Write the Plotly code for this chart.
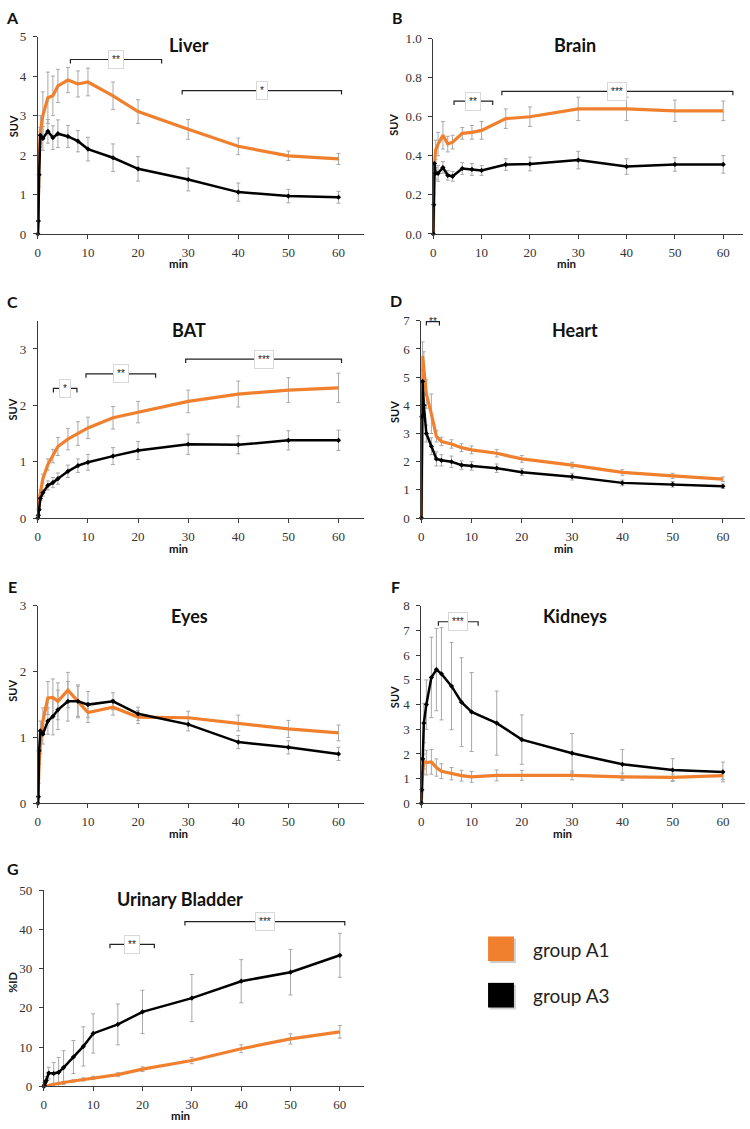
import plotly.graph_objects as go

# ---------------- data ----------------
T = [0, 0.1, 0.25, 0.5, 1, 2, 3, 4, 6, 8, 10, 15, 20, 30, 40, 50, 60]

LIVER_A1 = [0, 1.2, 2.0, 2.6, 3.0, 3.45, 3.5, 3.75, 3.9, 3.8, 3.85, 3.5, 3.1, 2.65, 2.22, 1.98, 1.9]
LIVER_A1_SD = [0, 0, 0, 0.4, 0.6, 0.65, 0.5, 0.42, 0.32, 0.33, 0.35, 0.35, 0.3, 0.25, 0.21, 0.12, 0.14]
LIVER_A3 = [0, 0.33, 1.5, 2.5, 2.42, 2.6, 2.44, 2.54, 2.47, 2.35, 2.15, 1.93, 1.65, 1.38, 1.06, 0.96, 0.93]
LIVER_A3_SD = [0, 0, 0, 0.2, 0.3, 0.3, 0.3, 0.35, 0.28, 0.27, 0.3, 0.35, 0.31, 0.29, 0.23, 0.17, 0.15]

BRAIN_A1 = [0, 0.2, 0.37, 0.43, 0.46, 0.505, 0.46, 0.47, 0.515, 0.52, 0.53, 0.59, 0.60, 0.64, 0.64, 0.63, 0.63]
BRAIN_A1_SD = [0, 0, 0, 0.05, 0.06, 0.07, 0.04, 0.035, 0.03, 0.035, 0.045, 0.05, 0.05, 0.06, 0.06, 0.055, 0.05]
BRAIN_A3 = [0, 0.15, 0.36, 0.31, 0.31, 0.34, 0.30, 0.295, 0.335, 0.33, 0.325, 0.355, 0.358, 0.378, 0.345, 0.356, 0.356]
BRAIN_A3_SD = [0, 0, 0, 0.03, 0.04, 0.03, 0.025, 0.025, 0.03, 0.03, 0.025, 0.03, 0.035, 0.045, 0.04, 0.035, 0.045]

BAT_A1 = [0, 0.2, 0.3, 0.45, 0.7, 0.95, 1.1, 1.27, 1.4, 1.5, 1.6, 1.78, 1.88, 2.07, 2.2, 2.27, 2.31]
BAT_A1_SD = [0, 0, 0, 0.05, 0.08, 0.1, 0.12, 0.16, 0.19, 0.21, 0.19, 0.2, 0.19, 0.2, 0.23, 0.22, 0.26]
BAT_A3 = [0, 0.05, 0.15, 0.35, 0.45, 0.58, 0.63, 0.7, 0.83, 0.93, 0.99, 1.1, 1.2, 1.31, 1.3, 1.38, 1.38]
BAT_A3_SD = [0, 0, 0, 0.04, 0.06, 0.08, 0.09, 0.1, 0.11, 0.12, 0.14, 0.15, 0.16, 0.18, 0.16, 0.17, 0.18]

HEART_A1 = [0, 3.0, 5.75, 5.3, 4.4, 3.7, 2.9, 2.72, 2.63, 2.5, 2.42, 2.3, 2.1, 1.88, 1.62, 1.5, 1.38]
HEART_A1_SD = [0, 0, 0.5, 0.6, 0.5, 0.7, 0.2, 0.15, 0.15, 0.14, 0.14, 0.13, 0.12, 0.1, 0.1, 0.09, 0.08]
HEART_A3 = [0, 3.6, 4.85, 4.0, 3.0, 2.55, 2.1, 2.05, 2.0, 1.88, 1.85, 1.77, 1.63, 1.47, 1.25, 1.2, 1.13]
HEART_A3_SD = [0, 0, 0.4, 0.4, 0.3, 0.3, 0.25, 0.2, 0.2, 0.15, 0.15, 0.15, 0.12, 0.12, 0.1, 0.1, 0.08]

EYES_A1 = [0, 0.3, 0.6, 0.9, 1.25, 1.6, 1.61, 1.55, 1.72, 1.55, 1.38, 1.46, 1.31, 1.3, 1.22, 1.13, 1.07]
EYES_A1_SD = [0, 0, 0, 0.15, 0.2, 0.25, 0.28, 0.28, 0.27, 0.23, 0.15, 0.12, 0.1, 0.1, 0.12, 0.13, 0.12]
EYES_A3 = [0, 0.1, 0.8, 1.1, 1.05, 1.25, 1.32, 1.42, 1.55, 1.55, 1.5, 1.55, 1.36, 1.2, 0.93, 0.85, 0.75]
EYES_A3_SD = [0, 0, 0, 0.15, 0.15, 0.2, 0.28, 0.3, 0.3, 0.25, 0.2, 0.13, 0.1, 0.1, 0.1, 0.1, 0.1]

KIDNEYS_A1 = [0, 0.5, 1.2, 1.7, 1.65, 1.68, 1.45, 1.3, 1.2, 1.12, 1.07, 1.13, 1.13, 1.13, 1.07, 1.05, 1.12]
KIDNEYS_A1_SD = [0, 0, 0, 0.3, 0.5, 0.5, 0.35, 0.3, 0.25, 0.22, 0.22, 0.22, 0.2, 0.18, 0.15, 0.13, 0.15]
KIDNEYS_A3 = [0, 0.55, 1.8, 3.25, 4.0, 5.1, 5.42, 5.25, 4.75, 4.1, 3.7, 3.25, 2.58, 2.03, 1.58, 1.35, 1.27]
KIDNEYS_A3_SD = [0, 0, 0, 0.8, 1.0, 1.63, 1.67, 1.87, 1.77, 1.8, 1.6, 1.3, 1.0, 0.8, 0.6, 0.46, 0.4]

BLADDER_A1 = [0, 0, 0.1, 0.2, 0.3, 0.6, 0.8, 1.0, 1.4, 1.8, 2.2, 3.0, 4.4, 6.6, 9.6, 12.1, 13.9]
BLADDER_A1_SD = [0, 0, 0, 0.1, 0.1, 0.2, 0.2, 0.3, 0.3, 0.4, 0.4, 0.5, 0.6, 0.8, 1.0, 1.3, 1.6]
BLADDER_A3 = [0, 0.3, 1.0, 1.5, 3.4, 3.3, 3.6, 4.8, 7.5, 10.2, 13.5, 15.8, 19.0, 22.5, 26.8, 29.1, 33.4]
BLADDER_A3_SD = [0, 0, 0, 1.0, 1.5, 2.8, 3.8, 4.3, 4.2, 5.0, 5.0, 5.2, 5.5, 6.0, 5.5, 5.8, 5.6]

X_TICKS = [0, 10, 20, 30, 40, 50, 60]
SERIES_NAMES = ["group A1", "group A3"]

# ---------------- styling / layout ----------------
W, H = 750, 1129
ORANGE = "#F0802E"
BLACK = "#000000"
ERR = "#a8a8a8"
AXC = "#3a3a3a"


def fx(p):
    return min(max(p / W, 0), 1)


def fy(p):
    return min(max(1 - p / H, 0), 1)


panels = [
    dict(letter="A", title="Liver", ytitle="SUV", a1=LIVER_A1, a1sd=LIVER_A1_SD, a3=LIVER_A3, a3sd=LIVER_A3_SD,
         xpx=(35, 362), xmax=65, ypx=(30, 230), ymax=5, yticks=[0, 1, 2, 3, 4, 5], yfmt="d",
         letpos=(10, 11), titpos=(187, 39), ytpos=(10, 121), minpos=(176, 260),
         brackets=[(6.5, 24.7, 4.42, "**"), (28.8, 60.6, 3.63, "*")]),
    dict(letter="B", title="Brain", ytitle="SUV", a1=BRAIN_A1, a1sd=BRAIN_A1_SD, a3=BRAIN_A3, a3sd=BRAIN_A3_SD,
         xpx=(432, 743), xmax=64.1, ypx=(32, 230), ymax=1.0, yticks=[0, 0.2, 0.4, 0.6, 0.8, 1.0], yfmt=".1f",
         letpos=(396, 11), titpos=(574, 39), ytpos=(392, 119), minpos=(566, 260),
         brackets=[(4.3, 12.3, 0.68, "**"), (14.2, 62, 0.73, "***")]),
    dict(letter="C", title="BAT", ytitle="SUV", a1=BAT_A1, a1sd=BAT_A1_SD, a3=BAT_A3, a3sd=BAT_A3_SD,
         xpx=(35, 362), xmax=65, ypx=(318, 518), ymax=3.5, yticks=[0, 1, 2, 3], yfmt="d",
         letpos=(10, 298), titpos=(187, 327), ytpos=(10, 408), minpos=(176, 549),
         brackets=[(3.1, 7.8, 2.3, "*"), (9.6, 23.5, 2.56, "**"), (29.5, 60.6, 2.82, "***")]),
    dict(letter="D", title="Heart", ytitle="SUV", a1=HEART_A1, a1sd=HEART_A1_SD, a3=HEART_A3, a3sd=HEART_A3_SD,
         xpx=(420, 745), xmax=64.4, ypx=(318, 518), ymax=7, yticks=[0, 1, 2, 3, 4, 5, 6, 7], yfmt="d",
         letpos=(395, 297), titpos=(574, 327), ytpos=(393, 410), minpos=(563, 549),
         brackets=[(1.0, 3.6, 6.97, "**")]),
    dict(letter="E", title="Eyes", ytitle="SUV", a1=EYES_A1, a1sd=EYES_A1_SD, a3=EYES_A3, a3sd=EYES_A3_SD,
         xpx=(35, 362), xmax=65, ypx=(607, 807), ymax=3, yticks=[0, 1, 2, 3], yfmt="d",
         letpos=(10, 587), titpos=(187, 617), ytpos=(10, 693), minpos=(176, 838),
         brackets=[]),
    dict(letter="F", title="Kidneys", ytitle="SUV", a1=KIDNEYS_A1, a1sd=KIDNEYS_A1_SD, a3=KIDNEYS_A3, a3sd=KIDNEYS_A3_SD,
         xpx=(420, 745), xmax=64.4, ypx=(607, 807), ymax=8, yticks=[0, 1, 2, 3, 4, 5, 6, 7, 8], yfmt="d",
         letpos=(394, 587), titpos=(574, 617), ytpos=(393, 699), minpos=(562, 838),
         brackets=[(3.4, 11.3, 7.36, "***")]),
    dict(letter="G", title="Urinary Bladder", ytitle="%ID", a1=BLADDER_A1, a1sd=BLADDER_A1_SD, a3=BLADDER_A3, a3sd=BLADDER_A3_SD,
         xpx=(41, 362), xmax=64.8, ypx=(895, 1094), ymax=50, yticks=[0, 10, 20, 30, 40, 50], yfmt="d",
         letpos=(10, 873), titpos=(178, 904), ytpos=(10, 988), minpos=(178, 1123),
         brackets=[(13.4, 22.4, 36.2, "**"), (28.6, 61, 42, "***")]),
]

fig = go.Figure()
layout = dict(width=W, height=H, margin=dict(l=0, r=0, t=0, b=0), paper_bgcolor="white",
              plot_bgcolor="rgba(0,0,0,0)", showlegend=False)
annotations = []
shapes = []

tickfont = dict(family="Liberation Serif, Times New Roman, serif", size=13, color="#333333")
boldfont = "Lato, Open Sans, sans-serif"


def clean_sd(sd):
    return [s if s > 0 else None for s in sd]


for i, p in enumerate(panels, start=1):
    xs = "" if i == 1 else str(i)
    xa, ya = "x" + xs, "y" + xs
    # error bars (behind lines)
    for vals, sd in ((p["a1"], p["a1sd"]), (p["a3"], p["a3sd"])):
        fig.add_trace(go.Scatter(x=T, y=vals, mode="markers", xaxis=xa, yaxis=ya,
                                 marker=dict(size=1, color="rgba(0,0,0,0)"),
                                 error_y=dict(type="data", array=clean_sd(sd), color=ERR, thickness=1, width=2),
                                 hoverinfo="skip", cliponaxis=False))
    fig.add_trace(go.Scatter(x=T, y=p["a1"], mode="lines", name=SERIES_NAMES[0], xaxis=xa, yaxis=ya,
                             line=dict(color=ORANGE, width=3.2), cliponaxis=False))
    fig.add_trace(go.Scatter(x=T, y=p["a3"], mode="lines+markers", name=SERIES_NAMES[1], xaxis=xa, yaxis=ya,
                             line=dict(color=BLACK, width=2.5), marker=dict(color=BLACK, size=4, symbol="diamond"),
                             cliponaxis=False))

    layout["xaxis" + xs] = dict(domain=[fx(p["xpx"][0]), fx(p["xpx"][1])], range=[0, p["xmax"]], anchor=ya,
                                tickvals=X_TICKS, showline=True, linecolor=AXC, linewidth=1, ticks="outside",
                                ticklen=4, tickcolor=AXC, tickfont=tickfont, showgrid=False, zeroline=False,
                                ticklabelstandoff=2, fixedrange=True)
    layout["yaxis" + xs] = dict(domain=[fy(p["ypx"][1]), fy(p["ypx"][0])], range=[0, p["ymax"]], anchor=xa,
                                tickvals=p["yticks"], tickformat=p["yfmt"], showline=True, linecolor=AXC, linewidth=1,
                                ticks="outside", ticklen=4, tickcolor=AXC, tickfont=tickfont, showgrid=False,
                                zeroline=False, ticklabelstandoff=4, fixedrange=True)

    annotations.append(dict(text="<b>%s</b>" % p["letter"], x=fx(p["letpos"][0]), y=fy(p["letpos"][1]),
                            xref="paper", yref="paper", showarrow=False, font=dict(family=boldfont, size=16, color="#111"),
                            xanchor="center", yanchor="middle"))
    annotations.append(dict(text="<b>%s</b>" % p["title"], x=fx(p["titpos"][0]), y=fy(p["titpos"][1]),
                            xref="paper", yref="paper", showarrow=False, font=dict(family=boldfont, size=18, color="#111"),
                            xanchor="center", yanchor="middle"))
    annotations.append(dict(text="<b>%s</b>" % p["ytitle"], x=fx(p["ytpos"][0]), y=fy(p["ytpos"][1]), textangle=-90,
                            xref="paper", yref="paper", showarrow=False, font=dict(family=boldfont, size=11, color="#111"),
                            xanchor="center", yanchor="middle"))
    annotations.append(dict(text="<b>min</b>", x=fx(p["minpos"][0]), y=fy(p["minpos"][1]),
                            xref="paper", yref="paper", showarrow=False, font=dict(family=boldfont, size=11.5, color="#111"),
                            xanchor="center", yanchor="middle", borderpad=0))

    d = p["ymax"] * 0.02
    for (b0, b1, by, lab) in p["brackets"]:
        shapes.append(dict(type="path", xref=xa, yref=ya,
                           path="M %f,%f L %f,%f L %f,%f L %f,%f" % (b0, by - d, b0, by, b1, by, b1, by - d),
                           line=dict(color="#222", width=1.2)))
        boxed = p["letter"] != "D"
        annotations.append(dict(text=lab, x=(b0 + b1) / 2, y=by, xref=xa, yref=ya, showarrow=False,
                                font=dict(family="Liberation Sans, sans-serif", size=10, color="#222"),
                                bgcolor="white" if boxed else "rgba(0,0,0,0)",
                                bordercolor="#d8d8d8" if boxed else "rgba(0,0,0,0)",
                                borderwidth=1, borderpad=3, xanchor="center", yanchor="middle"))

# legend (drawn as squares + labels)
legend_items = [(SERIES_NAMES[0], ORANGE, 942), (SERIES_NAMES[1], BLACK, 989)]
for name, col, top in legend_items:
    shapes.append(dict(type="rect", xref="paper", yref="paper", x0=fx(489), x1=fx(515), y0=fy(top + 27), y1=fy(top + 2),
                       fillcolor="#b0b0b0", line=dict(width=0), opacity=0.6))
    shapes.append(dict(type="rect", xref="paper", yref="paper", x0=fx(487), x1=fx(513), y0=fy(top + 25), y1=fy(top),
                       fillcolor=col, line=dict(width=0)))
    annotations.append(dict(text=name, x=fx(530), y=fy(top + 13), xref="paper", yref="paper", showarrow=False,
                            font=dict(family="Lato, sans-serif", size=19, color="#222"), xanchor="left", yanchor="middle"))

layout["annotations"] = annotations
layout["shapes"] = shapes
fig.update_layout(**layout)
fig.write_html("out.html", config={"displayModeBar": False},
               post_script="document.body.style.margin='0';document.body.style.overflow='hidden';")
